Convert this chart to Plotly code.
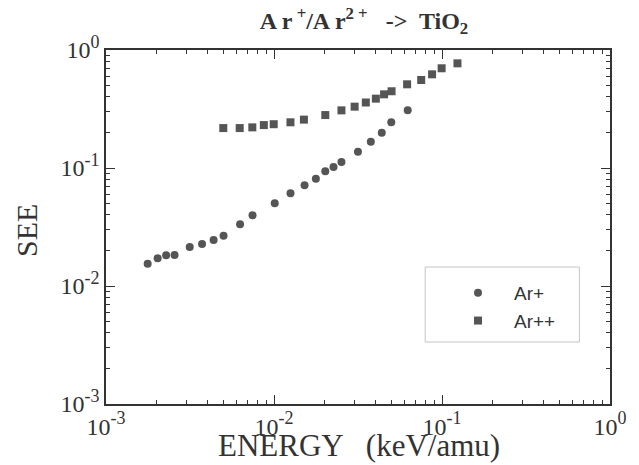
import plotly.graph_objects as go

# Ar+ data (energy keV/amu, SEE)
ar1_energy = [0.00177, 0.00203, 0.00228, 0.00256, 0.00315, 0.00373, 0.00437, 0.00501,
              0.00628, 0.00745, 0.0101, 0.01254, 0.0152, 0.01775, 0.0202, 0.0226,
              0.0252, 0.0316, 0.0377, 0.0438, 0.0499, 0.0625]
ar1_see = [0.0154, 0.0172, 0.0182, 0.0183, 0.0214, 0.0227, 0.0245, 0.0267,
           0.0333, 0.0397, 0.0502, 0.0610, 0.0713, 0.0811, 0.0938, 0.102,
           0.1124, 0.1375, 0.167, 0.199, 0.244, 0.308]

# Ar++ data
ar2_energy = [0.00499, 0.00625, 0.00743, 0.00870, 0.00996, 0.01253, 0.01507, 0.0202,
              0.0252, 0.0302, 0.0352, 0.0404, 0.0452, 0.0501, 0.0620, 0.0752,
              0.0873, 0.0995, 0.1236]
ar2_see = [0.218, 0.218, 0.221, 0.231, 0.235, 0.244, 0.257, 0.281,
           0.308, 0.331, 0.359, 0.387, 0.421, 0.447, 0.512, 0.557,
           0.622, 0.700, 0.771]

# decade tick labels (default label -> displayed label)
tick_default = ["0.001", "0.01", "0.1", "1"]
tick_exps = ["-3", "-2", "-1", "0"]
tick_alias = {d: "10<sup><span style='font-size:18px'>%s</span></sup>" % e
              for d, e in zip(tick_default, tick_exps)}

mark_color = "#555555"
ink = "#333333"
serif = "Liberation Serif, Times New Roman, serif"

fig = go.Figure()
fig.add_trace(go.Scatter(x=ar1_energy, y=ar1_see, mode="markers", name="Ar+",
                         marker=dict(symbol="circle", size=8, color=mark_color)))
fig.add_trace(go.Scatter(x=ar2_energy, y=ar2_see, mode="markers", name="Ar++",
                         marker=dict(symbol="square", size=8, color=mark_color)))

axis_style = dict(
    type="log", range=[-3, 0], dtick=1, showline=True, linecolor=ink, linewidth=1.5,
    mirror="ticks", ticks="inside", ticklen=9, tickwidth=1, tickcolor=ink,
    labelalias=tick_alias, tickfont=dict(family=serif, size=24, color=ink),
    minor=dict(ticks="inside", ticklen=4, tickcolor=ink, showgrid=False),
)

fig.update_layout(
    template="simple_white",
    xaxis=axis_style,
    yaxis=axis_style,
    width=639, height=465,
    margin=dict(l=106, r=23, t=50, b=61),
    title=dict(text="<b>A r<sup> +</sup>/A r<sup>2 +</sup>   ->  TiO<sub>2</sub></b>",
               x=(250 + 478) / 2 / 639, xanchor="center", y=1 - 21 / 465, yanchor="middle",
               font=dict(family=serif, size=24, color=ink)),
    showlegend=True,
    legend=dict(x=(446 - 106) / 510, y=1 - (274 - 50) / 354, xanchor="left", yanchor="top",
                borderwidth=0, bgcolor="rgba(0,0,0,0)",
                font=dict(family="Liberation Sans, Arial, sans-serif", size=19, color=ink),
                itemwidth=62),
    annotations=[
        dict(text="ENERGY   (keV/amu)", xref="paper", yref="paper",
             x=((205 + 520) / 2 - 106) / 510, y=-(465 - 404) / 354,
             xanchor="center", yanchor="bottom", showarrow=False,
             font=dict(family=serif, size=31, color=ink)),
        dict(text="SEE", xref="paper", yref="paper", x=-(106 - 25) / 510,
             y=1 - (230 - 50) / 354, xanchor="center", yanchor="middle", textangle=-90,
             showarrow=False, font=dict(family=serif, size=30, color=ink)),
    ],
    shapes=[
        dict(type="rect", xref="paper", yref="paper",
             x0=(429 - 106) / 510, x1=(585 - 106) / 510,
             y0=1 - (342 - 50) / 354, y1=1 - (267 - 50) / 354,
             line=dict(color="#444", width=1), fillcolor="rgba(0,0,0,0)"),
    ],
)

fig.write_html("out.html", config={"displayModeBar": False},
               post_script="document.body.style.margin='0';")
